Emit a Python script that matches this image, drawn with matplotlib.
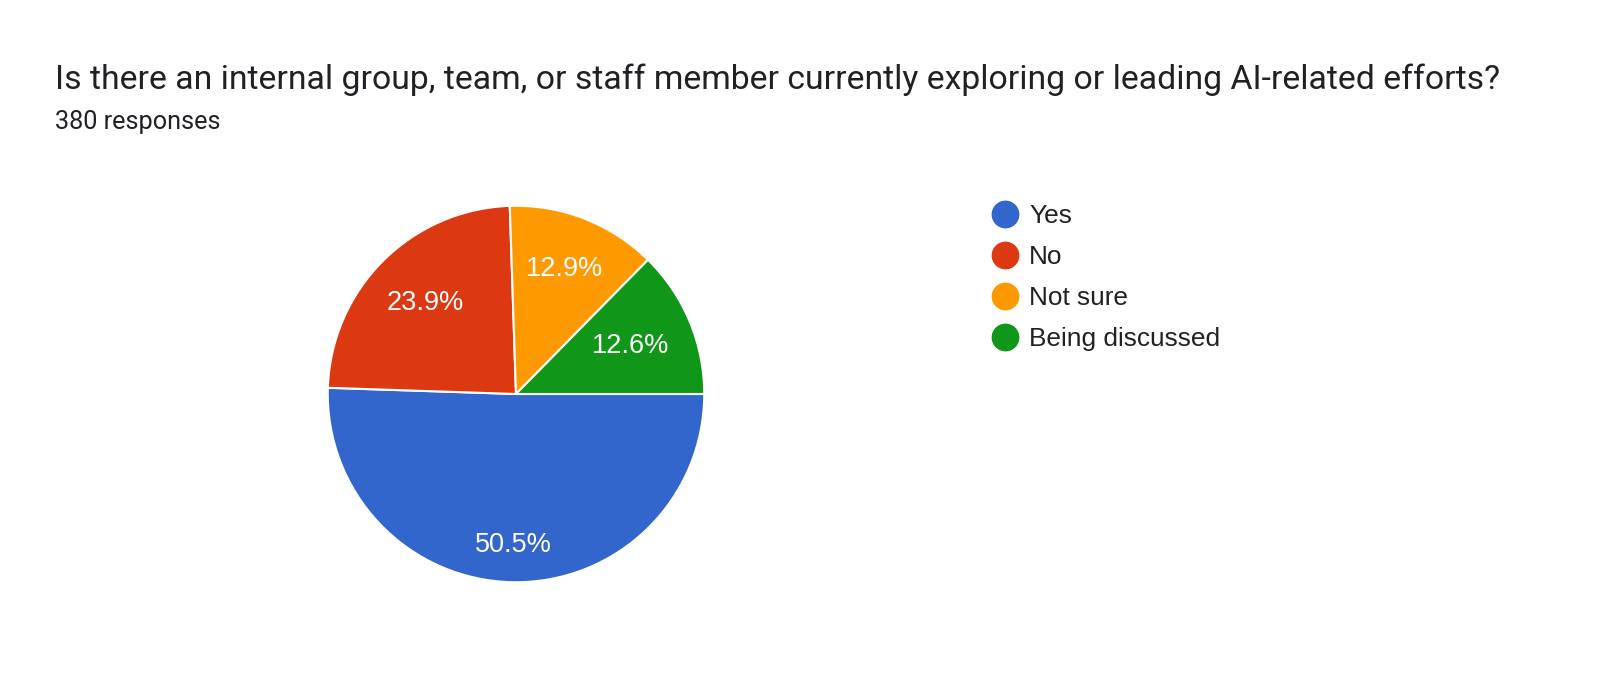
import numpy as np
import matplotlib
matplotlib.use("Agg")
import matplotlib.pyplot as plt
from matplotlib.lines import Line2D

title = "Is there an internal group, team, or staff member currently exploring or leading AI-related efforts?"
subtitle = "380 responses"
categories = ["Yes", "No", "Not sure", "Being discussed"]
counts = [192, 91, 49, 48]
colors = ["#3366cc", "#dc3912", "#ff9900", "#109618"]
label_dist = [0.80, 0.68, 0.71, 0.66]

fig = plt.figure(figsize=(16, 6.73), dpi=100)
fig.patch.set_facecolor("white")

fig.text(55 / 1600, 1 - 80 / 673, title, family="Roboto", fontsize=24.3,
         color="#202124", va="center", ha="left")
fig.text(55 / 1600, 1 - 122 / 673, subtitle, family="Roboto", fontsize=18.2,
         color="#202124", va="center", ha="left")

cx, cy, r = 516, 394, 192
ax = fig.add_axes([(cx - r) / 1600, (673 - cy - r) / 673, 2 * r / 1600, 2 * r / 673])
wedges, _ = ax.pie(counts, colors=colors, startangle=0, counterclock=False,
                   wedgeprops=dict(edgecolor="white", linewidth=1.5), radius=1)
total = sum(counts)
for w, c, d in zip(wedges, counts, label_dist):
    ang = np.deg2rad((w.theta1 + w.theta2) / 2)
    ax.text(d * np.cos(ang), d * np.sin(ang), f"{100 * c / total:.1f}%",
            ha="center", va="center", color="white", fontsize=19.5,
            family=["Liberation Sans", "DejaVu Sans"])
ax.set_xlim(-1.02, 1.02)
ax.set_ylim(-1.02, 1.02)
ax.axis("off")

handles = [Line2D([], [], marker="o", linestyle="none", markersize=19,
                  markerfacecolor=c, markeredgecolor=c) for c in colors]
fig.legend(handles, categories, loc="upper left",
           bbox_to_anchor=(992 / 1600, 1 - 204 / 673), frameon=False,
           prop=dict(family=["Liberation Sans", "DejaVu Sans"], size=18.9),
           labelspacing=0.65, handletextpad=0.42, borderaxespad=0, borderpad=0,
           handlelength=1.0, labelcolor="#202124")

fig.savefig("out.png", dpi=100, facecolor="white")
